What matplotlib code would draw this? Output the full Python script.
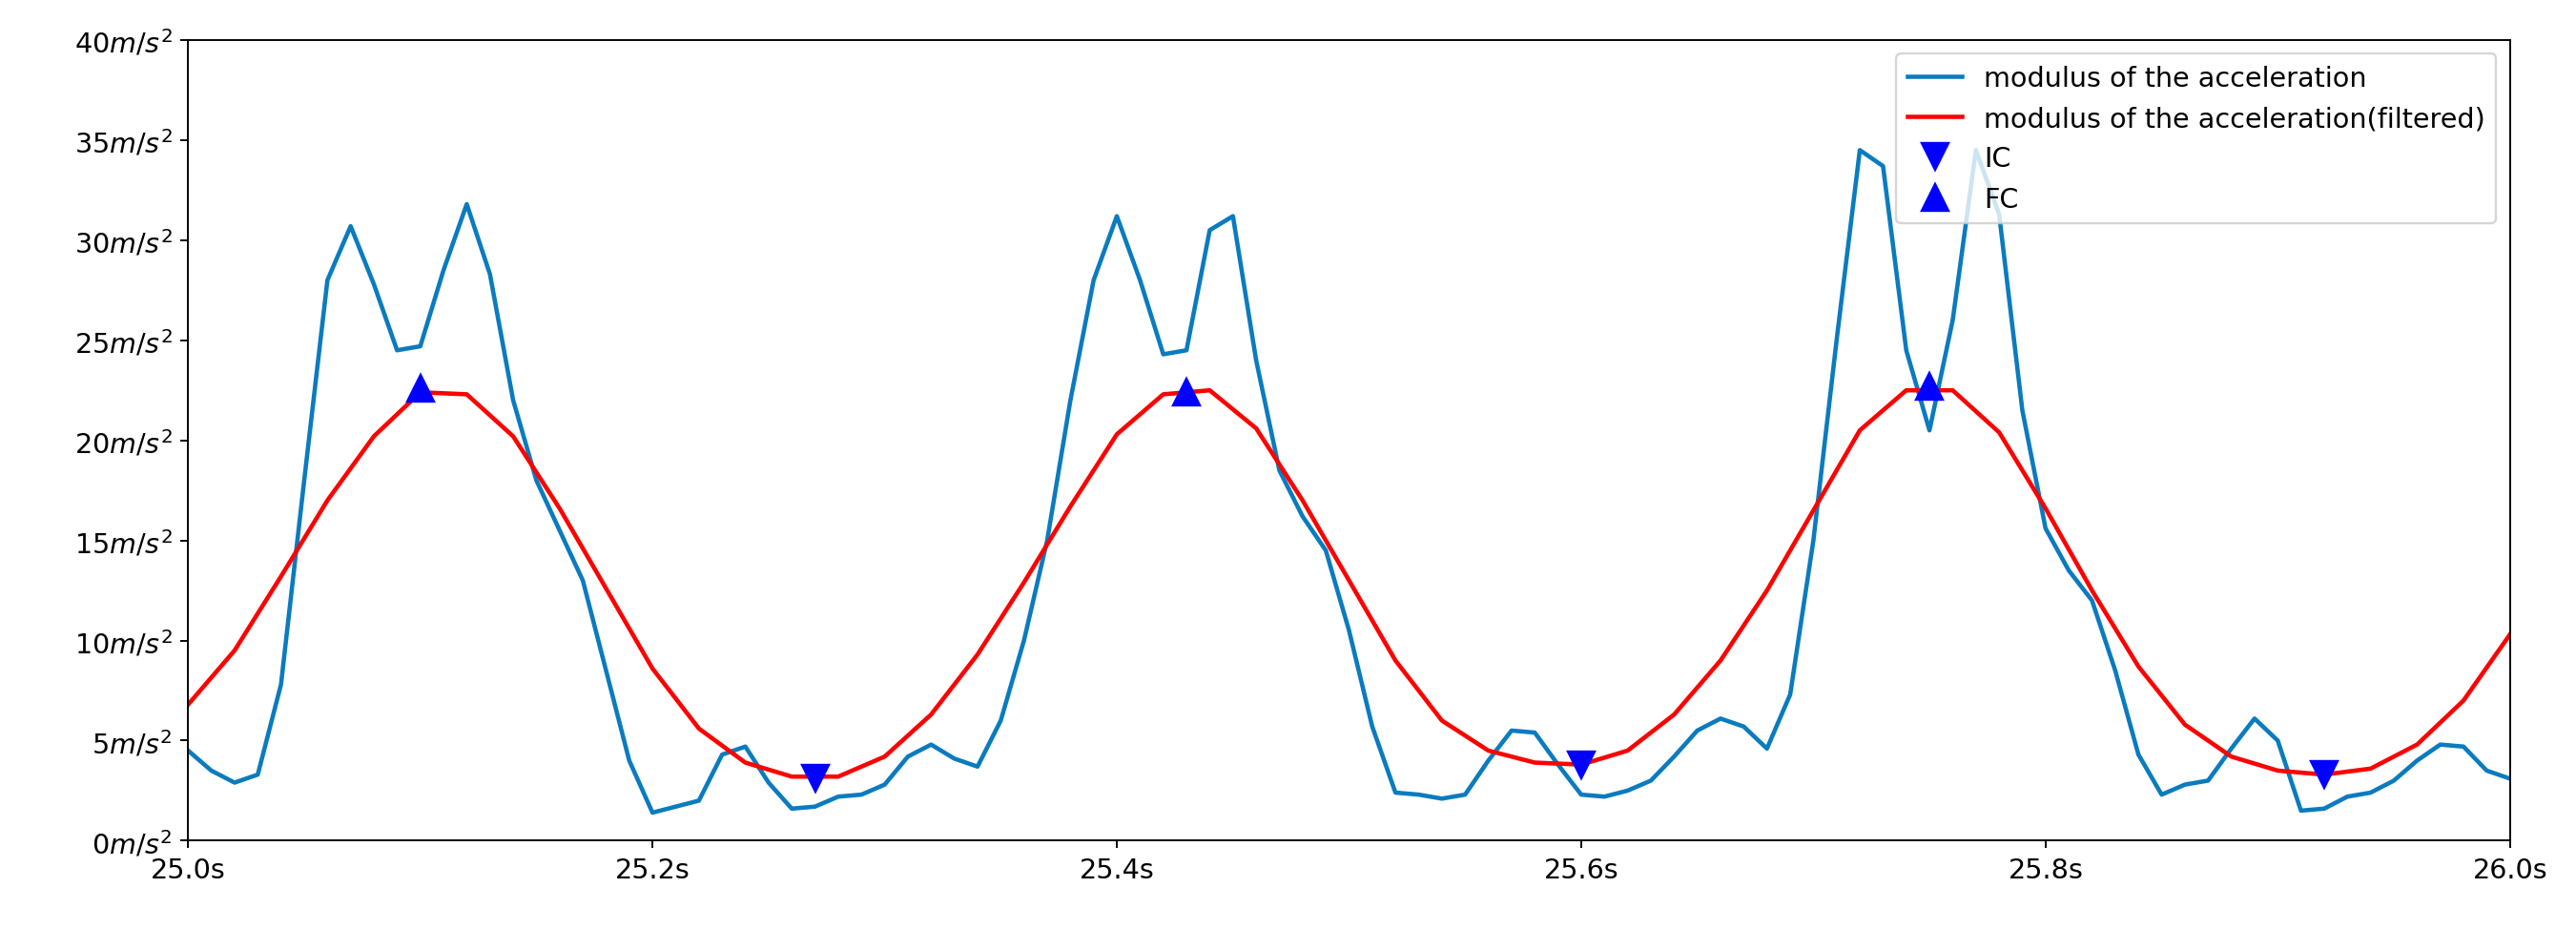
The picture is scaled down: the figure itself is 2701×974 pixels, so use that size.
import numpy as np
import matplotlib
matplotlib.use("Agg")
import matplotlib.pyplot as plt

raw_t = np.round(np.arange(25.0, 26.0001, 0.01), 2)
raw_acc = [4.5, 3.5, 2.9, 3.3, 7.8, 18, 28, 30.7, 27.8, 24.5,
           24.7, 28.5, 31.8, 28.3, 22, 18, 15.5, 13, 8.5, 4,
           1.4, 1.7, 2.0, 4.3, 4.7, 2.9, 1.6, 1.7, 2.2, 2.3,
           2.8, 4.2, 4.8, 4.1, 3.7, 6.0, 10, 15, 22, 28,
           31.2, 28, 24.3, 24.5, 30.5, 31.2, 24, 18.5, 16.2, 14.5,
           10.5, 5.7, 2.4, 2.3, 2.1, 2.3, 4.0, 5.5, 5.4, 3.8,
           2.3, 2.2, 2.5, 3.0, 4.2, 5.5, 6.1, 5.7, 4.6, 7.3,
           15, 25, 34.5, 33.7, 24.5, 20.5, 26, 34.5, 31.3, 21.5,
           15.6, 13.5, 12, 8.5, 4.3, 2.3, 2.8, 3.0, 4.6, 6.1,
           5.0, 1.5, 1.6, 2.2, 2.4, 3.0, 4.0, 4.8, 4.7, 3.5, 3.1]

filt_t = np.round(np.arange(25.0, 26.0001, 0.02), 2)
filt_acc = [6.8, 9.5, 13.2, 17.0, 20.2, 22.4, 22.3, 20.2, 16.6, 12.6,
            8.6, 5.6, 3.9, 3.2, 3.2, 4.2, 6.3, 9.3, 12.9, 16.7,
            20.3, 22.3, 22.5, 20.6, 17.0, 13.0, 9.0, 6.0, 4.5, 3.9,
            3.8, 4.5, 6.3, 9.0, 12.5, 16.5, 20.5, 22.5, 22.5, 20.4,
            16.6, 12.5, 8.7, 5.8, 4.2, 3.5, 3.3, 3.6, 4.8, 7.0, 10.3]

ic_t = [25.27, 25.60, 25.92]
ic_v = [3.1, 3.8, 3.3]
fc_t = [25.10, 25.43, 25.75]
fc_v = [22.6, 22.4, 22.7]

xticks = [25.0, 25.2, 25.4, 25.6, 25.8, 26.0]
yticks = [0, 5, 10, 15, 20, 25, 30, 35, 40]

fig = plt.figure(figsize=(15.7, 5.665), dpi=172.1)
ax = fig.add_axes([0.073, 0.095, 0.901, 0.861])
ax.plot(raw_t, raw_acc, color='#0a7bbf', lw=1.9, label='modulus of the acceleration')
ax.plot(filt_t, filt_acc, color='red', lw=1.9, label='modulus of the acceleration(filtered)')
ax.plot(ic_t, ic_v, 'v', color='blue', ms=12, label='IC')
ax.plot(fc_t, fc_v, '^', color='blue', ms=12, label='FC')
ax.set_xlim(25.0, 26.0)
ax.set_ylim(0, 40)
ax.set_xticks(xticks)
ax.set_xticklabels([f"{x:.1f}s" for x in xticks], fontsize=12)
ax.set_yticks(yticks)
ax.set_yticklabels([f"{y}$m/s^2$" for y in yticks], fontsize=12)
ax.legend(loc='upper right', fontsize=12)
fig.savefig('out.png', dpi=172.1)
